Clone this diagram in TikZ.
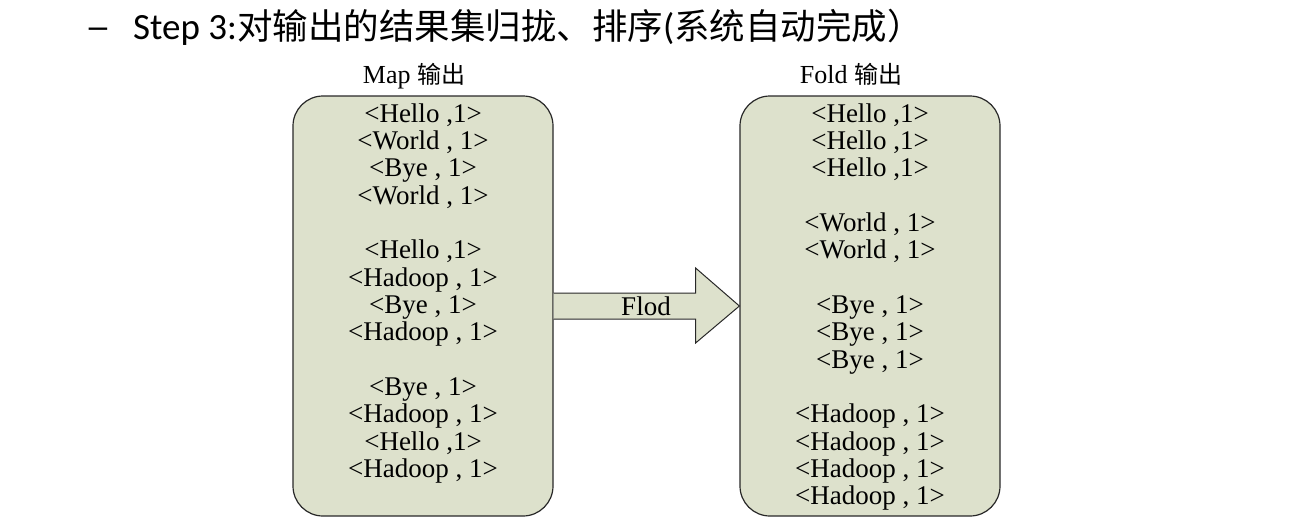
\documentclass[tikz,border=0pt]{standalone}
\usepackage{fontspec}
\setmainfont{Liberation Serif}
\newfontfamily\boxfont{Liberation Serif}
\newfontfamily\headfont{Carlito}
\newfontfamily\cjk{Noto Sans CJK SC}
\usetikzlibrary{calc}
\definecolor{boxfill}{RGB}{221,225,204}
\definecolor{boxline}{RGB}{40,40,40}

\begin{document}
\begin{tikzpicture}[x=1pt, y=-1pt,
    listbox/.style={draw=boxline, fill=boxfill, line width=1.2pt, rounded corners=30pt,
        minimum width=260pt, minimum height=420pt, inner sep=0pt},
    entry/.style={anchor=base, inner sep=0pt, font=\boxfont\fontsize{27}{27}\selectfont},
    title/.style={anchor=base, inner sep=0pt, font=\boxfont\fontsize{26}{27}\selectfont}]
\useasboundingbox (0,0) rectangle (1294,531);
% heading
\node[anchor=base west, inner sep=0pt, font=\headfont\fontsize{37}{40}\selectfont] (dash) at (85,39)
    {\addfontfeature{FakeStretch=1.4}–};
\node[anchor=base west, inner sep=0pt, font=\headfont\fontsize{37}{40}\selectfont] (heading) at (133,39)
    {Step 3:{\cjk\fontsize{35.5}{40}\selectfont 对输出的结果集归拢、排序}({\cjk\fontsize{35.5}{40}\selectfont 系统自动完成）}};
% boxes
\node[listbox] (map) at (423,306) {};
\node[listbox] (fold) at (870,306) {};
% titles
\node[title] (maptitle) at (414,83) {Map {\cjk\fontsize{24}{27}\selectfont 输出}};
\node[title] (foldtitle) at (851,83) {Fold {\cjk\fontsize{24}{27}\selectfont 输出}};
% map output
\foreach \k/\t [count=\i] in {0/{<Hello ,1>}, 1/{<World , 1>}, 2/{<Bye , 1>}, 3/{<World , 1>},
    5/{<Hello ,1>}, 6/{<Hadoop , 1>}, 7/{<Bye , 1>}, 8/{<Hadoop , 1>},
    10/{<Bye , 1>}, 11/{<Hadoop , 1>}, 12/{<Hello ,1>}, 13/{<Hadoop , 1>}}
    \node[entry] (map\i) at (423,{122+27.35*\k}) {\t};
% fold output
\foreach \k/\t [count=\i] in {0/{<Hello ,1>}, 1/{<Hello ,1>}, 2/{<Hello ,1>},
    4/{<World , 1>}, 5/{<World , 1>},
    7/{<Bye , 1>}, 8/{<Bye , 1>}, 9/{<Bye , 1>},
    11/{<Hadoop , 1>}, 12/{<Hadoop , 1>}, 13/{<Hadoop , 1>}, 14/{<Hadoop , 1>}}
    \node[entry] (fold\i) at (870,{122+27.35*\k}) {\t};
% arrow
\draw[draw=boxline, fill=boxfill, line width=1pt, line join=miter]
    ($(map.east)+(0,-13)$) -- ++(142,0) -- ++(0,-25) -- (fold.west)
    -- ($(map.east)+(142,37)$) -- ++(0,-24) -- ($(map.east)+(0,13)$);
\node[entry, anchor=center] (flod) at (646,306) {Flod};
\end{tikzpicture}
\end{document}
